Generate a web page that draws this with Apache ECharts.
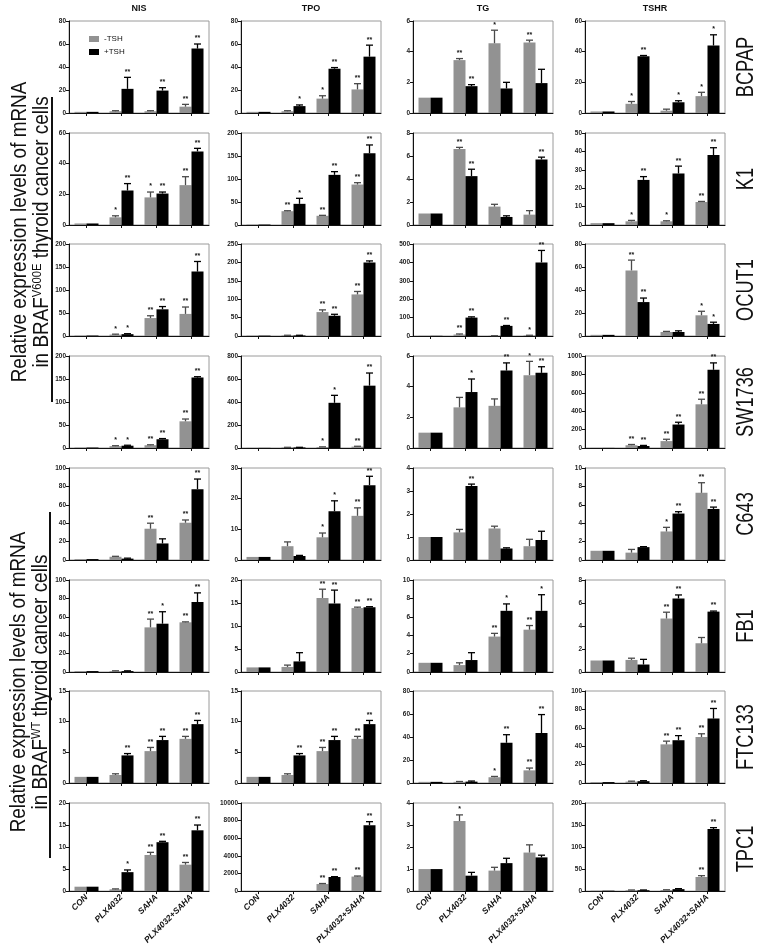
<!DOCTYPE html>
<html><head><meta charset="utf-8">
<script src="https://cdn.jsdelivr.net/npm/echarts@6/dist/echarts.min.js"></script>
<style>html,body{margin:0;padding:0;background:#fff}#c{width:761px;height:947px}</style>
</head><body><div id="c"></div>
<script>
// ---------------- DATA ----------------
const categories = ['CON', 'PLX4032', 'SAHA', 'PLX4032+SAHA'];
const genes = ['NIS', 'TPO', 'TG', 'TSHR'];
const cellLines = ['BCPAP', 'K1', 'OCUT1', 'SW1736', 'C643', 'FB1', 'FTC133', 'TPC1'];
const seriesNames = ['-TSH', '+TSH'];

// per row: arrays ordered [NIS, TPO, TG, TSHR]
const BCPAP_yMax = [80, 80, 6, 60];
const BCPAP_yStep = [20, 20, 2, 20];
const BCPAP_minusTSH = [[1, 1.5, 1.5, 5.5], [1, 1.5, 12.5, 20.5], [1, 3.45, 4.55, 4.6], [1, 6, 1.5, 11]];
const BCPAP_minusErr = [[0, 0.5, 0.5, 2], [0, 0.5, 2.5, 5], [0, 0.1, 0.85, 0.15], [0, 1.5, 1, 2.5]];
const BCPAP_plusTSH = [[1, 21, 19.5, 56], [1, 6, 38.5, 49], [1, 1.75, 1.6, 1.95], [1, 37, 7, 44]];
const BCPAP_plusErr = [[0, 10, 2.5, 4], [0, 1, 1, 10], [0, 0.1, 0.4, 0.9], [0, 0.5, 1, 7]];
const BCPAP_minusSig = [['', '', '', '**'], ['', '', '*', '**'], ['', '**', '*', '**'], ['', '*', '', '*']];
const BCPAP_plusSig = [['', '**', '**', '**'], ['', '*', '**', '**'], ['', '**', '', ''], ['', '**', '*', '*']];

const K1_yMax = [60, 200, 8, 50];
const K1_yStep = [20, 50, 2, 10];
const K1_minusTSH = [[1, 5, 18, 26], [1, 30, 20, 88], [1, 6.6, 1.6, 0.9], [1, 2, 2, 12.5]];
const K1_minusErr = [[0, 1, 3.5, 5.5], [0, 1, 1, 4], [0, 0.15, 0.2, 0.35], [0, 0.5, 0.3, 0.3]];
const K1_plusTSH = [[1, 22.5, 20.5, 48], [1, 46, 109, 156], [1, 4.25, 0.7, 5.7], [1, 24.5, 28, 38]];
const K1_plusErr = [[0, 4.5, 1, 2], [0, 12, 7, 18], [0, 0.6, 0.1, 0.2], [0, 1.8, 4, 4]];
const K1_minusSig = [['', '*', '*', '**'], ['', '**', '**', '**'], ['', '**', '', ''], ['', '*', '*', '**']];
const K1_plusSig = [['', '**', '**', '**'], ['', '*', '**', '**'], ['', '**', '', '**'], ['', '**', '**', '**']];

const OCUT1_yMax = [200, 250, 500, 80];
const OCUT1_yStep = [50, 50, 100, 20];
const OCUT1_minusTSH = [[1, 3, 39, 48], [1, 1.5, 65, 113], [1, 8, 1, 3], [1, 57, 3.5, 18]];
const OCUT1_minusErr = [[0, 1, 5, 15], [0, 0.5, 6, 8], [0, 3, 0.5, 1], [0, 9, 0.5, 3.5]];
const OCUT1_plusTSH = [[1, 4, 58, 140], [1, 1.5, 55, 200], [1, 100, 55, 400], [1, 29.5, 3.5, 10.5]];
const OCUT1_plusErr = [[0, 1, 6, 22], [0, 0.5, 4, 4], [0, 4, 2, 65], [0, 3.5, 1, 1.5]];
const OCUT1_minusSig = [['', '*', '**', '**'], ['', '', '**', '**'], ['', '**', '', '*'], ['', '**', '', '*']];
const OCUT1_plusSig = [['', '*', '**', '**'], ['', '', '**', '**'], ['', '**', '**', '**'], ['', '**', '', '*']];

const SW1736_yMax = [200, 800, 6, 1000];
const SW1736_yStep = [50, 200, 2, 200];
const SW1736_minusTSH = [[1, 4, 6, 58], [1, 5, 8, 12], [1, 2.65, 2.75, 4.75], [1, 30, 75, 475]];
const SW1736_minusErr = [[0, 1, 1, 5], [0, 1, 2, 3], [0, 0.65, 0.45, 0.9], [0, 8, 20, 55]];
const SW1736_plusTSH = [[1, 5, 19, 153], [1, 5, 393, 542], [1, 3.65, 5.05, 4.9], [1, 22, 255, 850]];
const SW1736_plusErr = [[0, 1, 1.5, 2], [0, 1, 65, 110], [0, 0.85, 0.5, 0.4], [0, 6, 25, 75]];
const SW1736_minusSig = [['', '*', '**', '**'], ['', '', '*', '**'], ['', '', '', '*'], ['', '**', '**', '**']];
const SW1736_plusSig = [['', '*', '**', '**'], ['', '', '*', '**'], ['', '*', '**', '**'], ['', '**', '**', '**']];

const C643_yMax = [100, 30, 4, 10];
const C643_yStep = [20, 10, 1, 2];
const C643_minusTSH = [[1, 3.5, 34, 40.5], [1, 4.5, 7.4, 14.4], [1, 1.2, 1.37, 0.6], [1, 0.8, 3.1, 7.3]];
const C643_minusErr = [[0, 0.5, 6, 3], [0, 1.4, 1.4, 2.6], [0, 0.13, 0.1, 0.3], [0, 0.35, 0.45, 1.1]];
const C643_plusTSH = [[1, 1.5, 18, 77], [1, 1.3, 15.9, 24.4], [1, 3.22, 0.5, 0.87], [1, 1.4, 5.05, 5.55]];
const C643_plusErr = [[0, 0.5, 5, 11], [0, 0.2, 3.4, 2.9], [0, 0.08, 0.03, 0.38], [0, 0.05, 0.2, 0.2]];
const C643_minusSig = [['', '', '**', '**'], ['', '', '*', '**'], ['', '', '', ''], ['', '', '*', '**']];
const C643_plusSig = [['', '', '', '**'], ['', '', '*', '**'], ['', '**', '', ''], ['', '', '**', '**']];

const FB1_yMax = [100, 20, 10, 8];
const FB1_yStep = [20, 5, 2, 2];
const FB1_minusTSH = [[1, 1, 48.5, 54], [1, 1.1, 16.1, 13.9], [1, 0.75, 3.85, 4.6], [1, 1.05, 4.65, 2.5]];
const FB1_minusErr = [[0, 0.3, 9, 0.5], [0, 0.4, 1.9, 0.2], [0, 0.25, 0.35, 0.45], [0, 0.15, 0.55, 0.5]];
const FB1_plusTSH = [[1, 1, 52.5, 76], [1, 2.3, 14.9, 14.1], [1, 1.3, 6.65, 6.65], [1, 0.65, 6.4, 5.25]];
const FB1_plusErr = [[0, 0.3, 13, 10], [0, 1.9, 2.9, 0.1], [0, 0.8, 0.75, 1.75], [0, 0.45, 0.3, 0.05]];
const FB1_minusSig = [['', '', '**', '**'], ['', '', '**', '**'], ['', '', '**', '**'], ['', '', '**', '']];
const FB1_plusSig = [['', '', '*', '**'], ['', '', '**', '**'], ['', '', '*', '*'], ['', '', '**', '**']];

const FTC133_yMax = [15, 15, 80, 100];
const FTC133_yStep = [5, 5, 20, 20];
const FTC133_minusTSH = [[1, 1.3, 5.2, 7.2], [1, 1.3, 5.2, 7.2], [1, 1, 5, 11], [1, 1.5, 42, 50]];
const FTC133_minusErr = [[0, 0.2, 0.6, 0.4], [0, 0.2, 0.6, 0.4], [0, 0.3, 0.7, 2], [0, 0.5, 3.5, 3.5]];
const FTC133_plusTSH = [[1, 4.5, 7, 9.6], [1, 4.5, 7, 9.6], [1, 1.2, 35, 43.5], [1, 2, 46.5, 70]];
const FTC133_plusErr = [[0, 0.3, 0.6, 0.6], [0, 0.3, 0.6, 0.6], [0, 0.5, 7, 16], [0, 0.5, 5, 11]];
const FTC133_minusSig = [['', '', '**', '**'], ['', '', '**', '**'], ['', '', '*', '**'], ['', '', '**', '**']];
const FTC133_plusSig = [['', '**', '**', '**'], ['', '**', '**', '**'], ['', '', '**', '**'], ['', '', '**', '**']];

const TPC1_yMax = [20, 10000, 4, 200];
const TPC1_yStep = [5, 2000, 1, 50];
const TPC1_minusTSH = [[1, 0.4, 8.2, 6], [1, 3, 800, 1650], [1, 3.18, 0.93, 1.75], [1, 2, 2.5, 32]];
const TPC1_minusErr = [[0, 0.1, 0.6, 0.5], [0, 0, 60, 60], [0, 0.28, 0.15, 0.35], [0, 0.5, 0.5, 3]];
const TPC1_plusTSH = [[1, 4.3, 11.1, 13.8], [1, 3, 1600, 7480], [1, 0.7, 1.27, 1.53], [1, 2, 4.5, 141]];
const TPC1_plusErr = [[0, 0.5, 0.2, 1.2], [0, 0, 40, 400], [0, 0.15, 0.22, 0.1], [0, 0.5, 1, 3]];
const TPC1_minusSig = [['', '', '**', '**'], ['', '', '**', '**'], ['', '*', '', ''], ['', '', '', '**']];
const TPC1_plusSig = [['', '*', '**', '**'], ['', '', '**', '**'], ['', '', '', ''], ['', '', '', '**']];

const rows = [
  [BCPAP_yMax, BCPAP_yStep, BCPAP_minusTSH, BCPAP_minusErr, BCPAP_plusTSH, BCPAP_plusErr, BCPAP_minusSig, BCPAP_plusSig],
  [K1_yMax, K1_yStep, K1_minusTSH, K1_minusErr, K1_plusTSH, K1_plusErr, K1_minusSig, K1_plusSig],
  [OCUT1_yMax, OCUT1_yStep, OCUT1_minusTSH, OCUT1_minusErr, OCUT1_plusTSH, OCUT1_plusErr, OCUT1_minusSig, OCUT1_plusSig],
  [SW1736_yMax, SW1736_yStep, SW1736_minusTSH, SW1736_minusErr, SW1736_plusTSH, SW1736_plusErr, SW1736_minusSig, SW1736_plusSig],
  [C643_yMax, C643_yStep, C643_minusTSH, C643_minusErr, C643_plusTSH, C643_plusErr, C643_minusSig, C643_plusSig],
  [FB1_yMax, FB1_yStep, FB1_minusTSH, FB1_minusErr, FB1_plusTSH, FB1_plusErr, FB1_minusSig, FB1_plusSig],
  [FTC133_yMax, FTC133_yStep, FTC133_minusTSH, FTC133_minusErr, FTC133_plusTSH, FTC133_plusErr, FTC133_minusSig, FTC133_plusSig],
  [TPC1_yMax, TPC1_yStep, TPC1_minusTSH, TPC1_minusErr, TPC1_plusTSH, TPC1_plusErr, TPC1_minusSig, TPC1_plusSig]
].map(a => ({yMax: a[0], yStep: a[1], minus: a[2], minusErr: a[3], plus: a[4], plusErr: a[5], minusSig: a[6], plusSig: a[7]}));

// ---------------- LAYOUT / STYLE ----------------
const colLeft = [69, 241, 413, 585];
const plotW = 140;
const rowTop = [21, 133, 244, 356, 468, 580, 691, 803];
const plotH = 92;
const BAR_W = 12;
const GRAY = '#929292';
const BLACK = '#000000';
const SANS = "'Liberation Sans', Arial, sans-serif";

const grid = [], xAxis = [], yAxis = [], series = [];
rows.forEach((r, ri) => {
  genes.forEach((g, gi) => {
    const k = grid.length;
    grid.push({left: colLeft[gi], top: rowTop[ri], width: plotW, height: plotH, show: true,
      borderColor: '#9a9a9a', borderWidth: 1, backgroundColor: 'transparent', containLabel: false});
    xAxis.push({type: 'category', gridIndex: k, data: categories,
      axisLine: {show: true, lineStyle: {color: '#111', width: 1}},
      axisTick: {show: true, alignWithLabel: true, length: 3, lineStyle: {color: '#111'}},
      axisLabel: {show: ri === rows.length - 1, rotate: 45, interval: 0, fontSize: 8.5, fontWeight: 'bold',
        fontStyle: 'italic', color: '#111', margin: 5, fontFamily: SANS}});
    yAxis.push({type: 'value', gridIndex: k, min: 0, max: r.yMax[gi], interval: r.yStep[gi],
      axisLine: {show: true, lineStyle: {color: '#111', width: 1}},
      axisTick: {show: true, length: 3, lineStyle: {color: '#111'}},
      splitLine: {show: false},
      axisLabel: {fontSize: 6.5, fontWeight: 'bold', color: '#222', margin: 3, fontFamily: SANS,
        formatter: v => String(v)}});
    series.push({type: 'bar', name: seriesNames[0], xAxisIndex: k, yAxisIndex: k, data: r.minus[gi],
      barWidth: BAR_W, barGap: '0%', itemStyle: {color: GRAY}, silent: true});
    series.push({type: 'bar', name: seriesNames[1], xAxisIndex: k, yAxisIndex: k, data: r.plus[gi],
      barWidth: BAR_W, barGap: '0%', itemStyle: {color: BLACK}, silent: true});
    const mSig = r.minusSig[gi], pSig = r.plusSig[gi];
    series.push({type: 'custom', xAxisIndex: k, yAxisIndex: k, silent: true, z: 5, clip: false,
      encode: {x: 0, y: 1},
      data: r.minus[gi].map((v, i) => [i, v, r.minusErr[gi][i], r.plus[gi][i], r.plusErr[gi][i]]),
      renderItem: (params, api) => {
        const i = api.value(0);
        const children = [];
        const items = [
          [api.value(1), api.value(2), -BAR_W / 2, mSig[i], '#4a4a4a'],
          [api.value(3), api.value(4), BAR_W / 2, pSig[i], '#000']
        ];
        items.forEach(([v, e, off, sig, col]) => {
          const base = api.coord([i, v]);
          const top = api.coord([i, v + e]);
          const x = base[0] + off;
          if (e > 0) {
            children.push({type: 'line', shape: {x1: x, y1: base[1], x2: x, y2: top[1]},
              style: {stroke: col, lineWidth: 1.3}});
            children.push({type: 'line', shape: {x1: x - 3.5, y1: top[1], x2: x + 3.5, y2: top[1]},
              style: {stroke: col, lineWidth: 1.3}});
          }
          if (sig) {
            children.push({type: 'text', x: x, y: top[1] - 2,
              style: {text: sig, fill: '#111', fontSize: 7, fontWeight: 'bold', fontFamily: SANS,
                align: 'center', verticalAlign: 'bottom'}});
          }
        });
        return {type: 'group', children: children};
      }});
  });
});

const graphic = [];
genes.forEach((g, gi) => {
  graphic.push({type: 'text', x: colLeft[gi] + plotW / 2, y: 9,
    style: {text: g, fontSize: 9, fontWeight: 'bold', fill: '#111', fontFamily: SANS, align: 'center', verticalAlign: 'middle'}});
});
cellLines.forEach((c, ri) => {
  graphic.push({type: 'text', x: 746, y: rowTop[ri] + plotH / 2, rotation: Math.PI / 2, scaleX: 0.76,
    style: {text: c, fontSize: 24, fill: '#111', fontFamily: SANS, align: 'center', verticalAlign: 'middle'}});
});
const titleRich = {sup: {fontSize: 13, verticalAlign: 'top', fontFamily: SANS, fill: '#111'}};
graphic.push({type: 'text', x: 31, y: 232, rotation: Math.PI / 2, scaleX: 0.86,
  style: {text: 'Relative expression levels of mRNA\nin BRAF{sup|V600E} thyroid cancer cells',
    fontSize: 22, lineHeight: 22, fill: '#111', fontFamily: SANS, align: 'center', verticalAlign: 'middle', rich: titleRich}});
graphic.push({type: 'line', shape: {x1: 52, y1: 97, x2: 52, y2: 402}, style: {stroke: '#111', lineWidth: 2}});
graphic.push({type: 'text', x: 30, y: 682, rotation: Math.PI / 2, scaleX: 0.86,
  style: {text: 'Relative expression levels of mRNA\nin BRAF{sup|WT} thyroid cancer cells',
    fontSize: 22, lineHeight: 22, fill: '#111', fontFamily: SANS, align: 'center', verticalAlign: 'middle', rich: titleRich}});
graphic.push({type: 'line', shape: {x1: 50, y1: 512, x2: 50, y2: 858}, style: {stroke: '#111', lineWidth: 2}});

const chart = echarts.init(document.getElementById('c'), null, {renderer: 'canvas'});
chart.setOption({
  animation: false,
  backgroundColor: '#fff',
  legend: {data: seriesNames, left: 84, top: 30, orient: 'vertical', itemWidth: 10, itemHeight: 6, itemGap: 5,
    icon: 'rect', selectedMode: false, textStyle: {fontSize: 8, color: '#111', fontFamily: SANS}},
  grid: grid, xAxis: xAxis, yAxis: yAxis, series: series, graphic: graphic
});
</script></body></html>
